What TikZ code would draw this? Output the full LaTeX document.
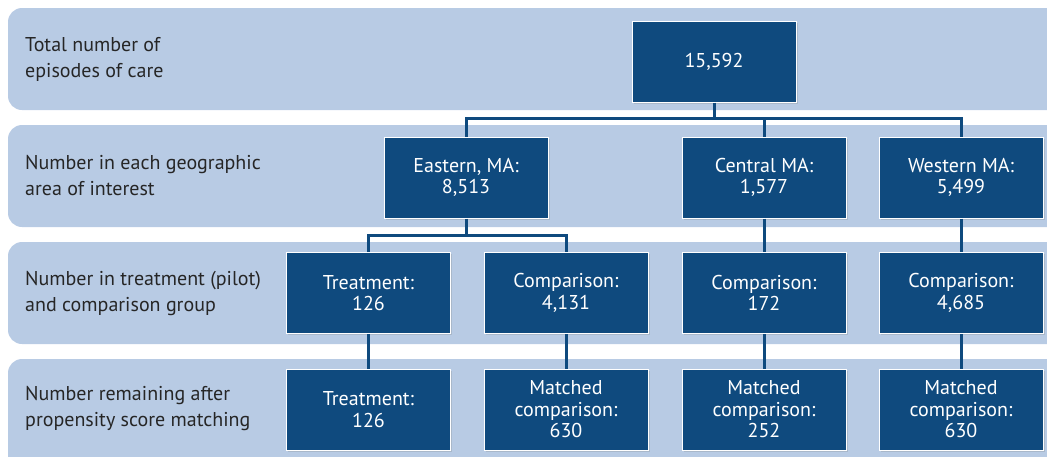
\documentclass[tikz,border=0pt]{standalone}
\usepackage{fontspec}
\setmainfont{PT Sans}
\usetikzlibrary{shadows}
\definecolor{bandblue}{HTML}{B8CBE4}
\definecolor{boxblue}{HTML}{0F4A7E}
\definecolor{linkblue}{HTML}{0F4A7E}

\begin{document}
\begin{tikzpicture}[x=1pt,y=-1pt,
  band/.style={fill=bandblue, rounded corners=14pt},
  rowlabel/.style={anchor=west, align=left, text=black!85, inner sep=0pt,
    font=\fontsize{20}{26}\selectfont},
  countbox/.style={draw=white, line width=1pt, fill=boxblue, text=white,
    align=center, minimum width=164pt, minimum height=81pt, inner sep=0pt,
    font=\fontsize{20}{21.5}\selectfont,
    drop shadow={shadow xshift=1.5pt, shadow yshift=-1.5pt, opacity=0.25}},
  link/.style={draw=linkblue, line width=3pt}]
  \useasboundingbox (0,0) rectangle (1047,456);
  \clip (0,0) rectangle (1047,456);

  % background bands
  \fill[band] (8,8) rectangle (1070,110);
  \fill[band] (8,125) rectangle (1070,227);
  \fill[band] (8,242) rectangle (1070,344);
  \fill[band] (8,359) rectangle (1070,475);

  % row labels
  \node[rowlabel] (lab1) at (25,59) {Total number of\\episodes of care};
  \node[rowlabel] (lab2) at (25,176) {Number in each geographic\\area of interest};
  \node[rowlabel] (lab3) at (25,293) {Number in treatment (pilot)\\and comparison group};
  \node[rowlabel] (lab4) at (25,409) {Number remaining after\\propensity score matching};

  % boxes
  \node[countbox] (total) at (714,61.5) {15,592};

  \node[countbox] (east) at (466,177.5) {Eastern, MA:\\8,513};
  \node[countbox] (central) at (764,177.5) {Central MA:\\1,577};
  \node[countbox] (west) at (961,177.5) {Western MA:\\5,499};

  \node[countbox] (treat) at (368.5,293) {Treatment:\\126};
  \node[countbox] (compE) at (566,293) {Comparison:\\4,131};
  \node[countbox] (compC) at (764,293) {Comparison:\\172};
  \node[countbox] (compW) at (961,293) {Comparison:\\4,685};

  \node[countbox] (treatM) at (368.5,409.5) {Treatment:\\126};
  \node[countbox] (matchE) at (566,409.5) {Matched\\comparison:\\630};
  \node[countbox] (matchC) at (764,409.5) {Matched\\comparison:\\252};
  \node[countbox] (matchW) at (961,409.5) {Matched\\comparison:\\630};

  % connectors
  \coordinate (busA) at (714,118);
  \coordinate (busB) at (466,235);
  \draw[link] (total.south) -- (busA);
  \draw[link] (east.north) |- (busA) -| (west.north);
  \draw[link] (central.north) -- (central.north |- busA);
  \draw[link] (east.south) -- (busB);
  \draw[link] (treat.north) |- (busB) -| (compE.north);
  \draw[link] (central.south) -- (compC.north);
  \draw[link] (west.south) -- (compW.north);
  \draw[link] (treat.south) -- (treatM.north);
  \draw[link] (compE.south) -- (matchE.north);
  \draw[link] (compC.south) -- (matchC.north);
  \draw[link] (compW.south) -- (matchW.north);
\end{tikzpicture}
\end{document}
